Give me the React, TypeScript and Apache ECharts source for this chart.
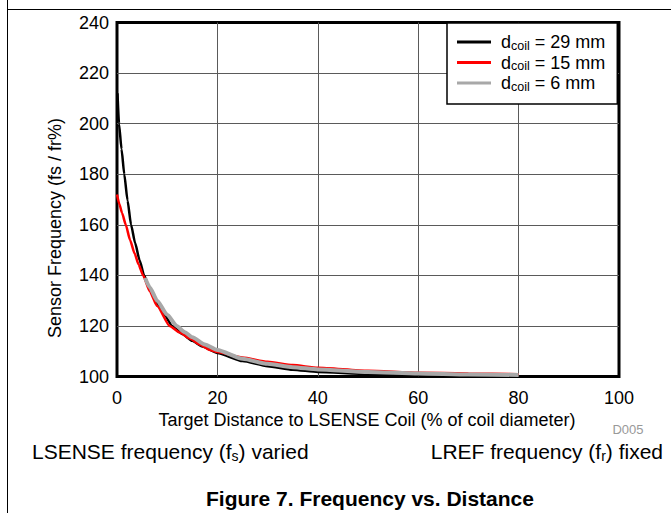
import React, { useEffect, useRef } from 'react';
import * as echarts from 'echarts';

// d_coil = 29 mm (black)
const coil29X = [0.1, 0.4, 0.9, 1.45, 2.1, 2.8, 3.6, 4.5, 5.4, 6.5, 8, 9.5, 11, 13, 15, 17, 20, 25, 30, 35, 40, 50, 60, 70, 80];
const coil29Y = [212, 200, 190, 180, 169.6, 160, 152.9, 146, 140, 134.7, 128.9, 124.2, 120, 116.8, 114.1, 111.9, 109.3, 106.1, 104.1, 102.7, 101.8, 101.0, 100.5, 100.3, 100.2];

// d_coil = 15 mm (red)
const coil15X = [0, 0.5, 1, 1.75, 2.6, 3.5, 4.3, 5.2, 6.5, 8, 10.5, 12.5, 14.5, 16.5, 18.5, 20, 25, 30, 35, 40, 50, 60, 70, 80];
const coil15Y = [172, 168, 164.7, 160, 154, 148.7, 144.3, 140, 133.8, 127.9, 120, 117.4, 115, 112.6, 110.5, 109.7, 107.5, 105.8, 104.5, 103.5, 102.3, 101.5, 101.2, 100.9];

// d_coil = 6 mm (gray)
const coil6X = [5.6, 6.5, 8, 10, 11.9, 13.5, 15, 17.5, 20, 25, 30, 35, 40, 50, 60, 70, 80];
const coil6Y = [139, 135.3, 130, 124.4, 120, 117.5, 115.5, 112.7, 110.5, 107, 105, 103.7, 102.8, 101.8, 101.2, 100.8, 100.6];

const seriesNames = ['29 mm', '15 mm', '6 mm'];
const seriesColors = ['#000000', '#ff0000', '#a8a8a8'];
const seriesWidths = [2.5, 2.5, 4];

const xMin = 0, xMax = 100, xStep = 20;
const yMin = 100, yMax = 240, yStep = 20;

const yTitle = 'Sensor Frequency (fs / fr%)';
const xTitle = 'Target Distance to LSENSE Coil (% of coil diameter)';
const figTitle = 'Figure 7. Frequency vs. Distance';
const docId = 'D005';

export default function App() {
  const ref = useRef<HTMLDivElement>(null);
  useEffect(() => {
    if (!ref.current) return;
    const chart = echarts.init(ref.current, null, { renderer: 'svg' });
    const font = "'Liberation Sans', Arial, Helvetica, sans-serif";
    const zip = (xs: number[], ys: number[]) => xs.map((x, i) => [x, ys[i]]);
    const datas = [zip(coil29X, coil29Y), zip(coil15X, coil15Y), zip(coil6X, coil6Y)];
    const axisCommon = {
      type: 'value',
      axisLine: { show: false },
      axisTick: { show: false },
      splitLine: { show: true, showMinLine: false, showMaxLine: false, lineStyle: { color: '#5a5a5a', width: 1 } },
    };
    chart.setOption({
      animation: false,
      textStyle: { fontFamily: font },
      grid: {
        left: 117, top: 22.5, width: 502, height: 354,
        show: true, borderColor: '#000', borderWidth: 3, backgroundColor: 'transparent',
      },
      xAxis: {
        ...axisCommon,
        min: xMin, max: xMax, interval: xStep,
        axisLabel: { color: '#000', fontSize: 18, margin: 12, fontFamily: font },
      },
      yAxis: {
        ...axisCommon,
        min: yMin, max: yMax, interval: yStep,
        axisLabel: { color: '#000', fontSize: 18, margin: 8, fontFamily: font },
      },
      legend: {
        orient: 'vertical', left: 447, top: 23,
        padding: [10, 12, 11, 10], itemGap: 1.5, itemWidth: 34, itemHeight: 3, icon: 'rect',
        backgroundColor: '#fff', borderColor: '#000', borderWidth: 1.5, borderRadius: 0,
        data: seriesNames,
        formatter: (name: string) => `{a|d}{b|coil}{c| = ${name}}`,
        textStyle: {
          rich: {
            a: { fontSize: 18, lineHeight: 20, color: '#000', fontFamily: font, padding: [0, 0, 0, 5] },
            b: { fontSize: 12.5, lineHeight: 12, verticalAlign: 'bottom', color: '#000', fontFamily: font },
            c: { fontSize: 18, lineHeight: 20, color: '#000', fontFamily: font },
          },
        },
      },
      series: seriesNames.map((name, i) => ({
        name,
        type: 'line',
        data: datas[i],
        showSymbol: false,
        symbol: 'none',
        smooth: 0.2,
        smoothMonotone: 'x',
        color: seriesColors[i],
        lineStyle: { color: seriesColors[i], width: seriesWidths[i] },
        z: 2 + i,
      })),
      graphic: [
        { type: 'line', shape: { x1: 7.5, y1: 0, x2: 7.5, y2: 513 }, style: { stroke: '#000', lineWidth: 1 } },
        { type: 'line', shape: { x1: 7.5, y1: 9.5, x2: 671, y2: 9.5 }, style: { stroke: '#000', lineWidth: 1 } },
        {
          type: 'text', x: 55, y: 228, rotation: Math.PI / 2,
          style: { text: yTitle, font: `18px ${font}`, fill: '#000', align: 'center', verticalAlign: 'middle', textAlign: 'center', textVerticalAlign: 'middle' },
        },
        {
          type: 'text', x: 367, y: 420,
          style: { text: xTitle, font: `18px ${font}`, fill: '#000', align: 'center', verticalAlign: 'middle', textAlign: 'center', textVerticalAlign: 'middle' },
        },
        {
          type: 'text', x: 628, y: 429,
          style: { text: docId, font: `13px ${font}`, fill: '#999', align: 'center', verticalAlign: 'middle', textAlign: 'center', textVerticalAlign: 'middle' },
        },
        {
          type: 'text', x: 32, y: 451,
          style: {
            text: '{a|LSENSE frequency (f}{b|s}{a|) varied}',
            align: 'left', verticalAlign: 'middle', textAlign: 'left', textVerticalAlign: 'middle',
            rich: {
              a: { fontSize: 21, lineHeight: 24, fill: '#000', fontFamily: font },
              b: { fontSize: 14, lineHeight: 14, verticalAlign: 'bottom', fill: '#000', fontFamily: font },
            },
          },
        },
        {
          type: 'text', x: 663, y: 451,
          style: {
            text: '{a|LREF frequency (f}{b|r}{a|) fixed}',
            align: 'right', verticalAlign: 'middle', textAlign: 'right', textVerticalAlign: 'middle',
            rich: {
              a: { fontSize: 21, lineHeight: 24, fill: '#000', fontFamily: font },
              b: { fontSize: 14, lineHeight: 14, verticalAlign: 'bottom', fill: '#000', fontFamily: font },
            },
          },
        },
        {
          type: 'text', x: 370, y: 498,
          style: { text: figTitle, font: `bold 21px ${font}`, fill: '#000', align: 'center', verticalAlign: 'middle', textAlign: 'center', textVerticalAlign: 'middle' },
        },
      ],
    });
    return () => chart.dispose();
  }, []);
  return (
    <div
      ref={ref}
      style={{ position: 'fixed', left: 0, top: 0, width: 671, height: 513, background: '#fff' }}
    />
  );
}
